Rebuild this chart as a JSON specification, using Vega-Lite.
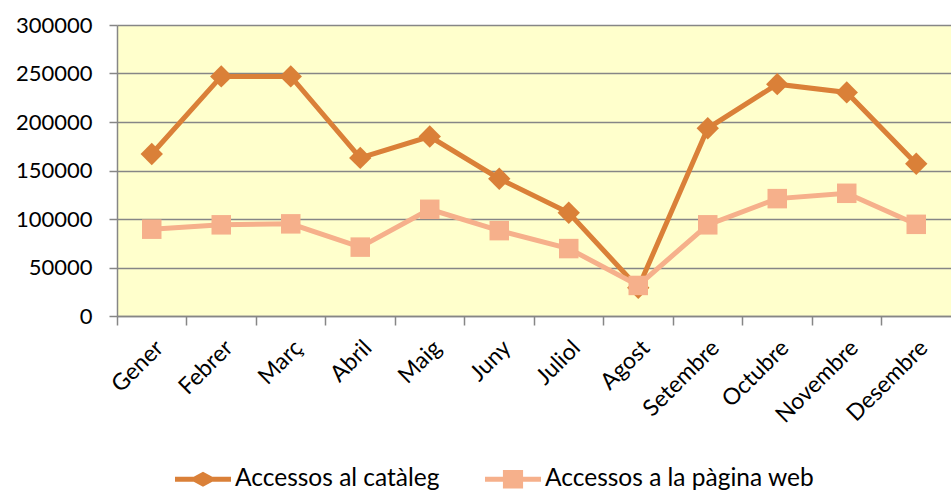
{
  "$schema": "https://vega.github.io/schema/vega-lite/v6.json",
  "autosize": {"type": "none"},
  "width": 834,
  "height": 291,
  "padding": {"left": 117, "top": 25, "right": 0, "bottom": 175},
  "background": "white",
  "config": {
    "view": {"fill": "#FFFFCC", "stroke": null},
    "font": "Lato"
  },
  "data": {
    "values": [
      {"mes": "Gener", "serie": "Accessos al catàleg", "valor": 167000},
      {"mes": "Febrer", "serie": "Accessos al catàleg", "valor": 247000},
      {"mes": "Març", "serie": "Accessos al catàleg", "valor": 247000},
      {"mes": "Abril", "serie": "Accessos al catàleg", "valor": 163000},
      {"mes": "Maig", "serie": "Accessos al catàleg", "valor": 185000},
      {"mes": "Juny", "serie": "Accessos al catàleg", "valor": 141500},
      {"mes": "Juliol", "serie": "Accessos al catàleg", "valor": 106500},
      {"mes": "Agost", "serie": "Accessos al catàleg", "valor": 29000},
      {"mes": "Setembre", "serie": "Accessos al catàleg", "valor": 193500},
      {"mes": "Octubre", "serie": "Accessos al catàleg", "valor": 239000},
      {"mes": "Novembre", "serie": "Accessos al catàleg", "valor": 230500},
      {"mes": "Desembre", "serie": "Accessos al catàleg", "valor": 157000},
      {"mes": "Gener", "serie": "Accessos a la pàgina web", "valor": 89500},
      {"mes": "Febrer", "serie": "Accessos a la pàgina web", "valor": 94000},
      {"mes": "Març", "serie": "Accessos a la pàgina web", "valor": 95000},
      {"mes": "Abril", "serie": "Accessos a la pàgina web", "valor": 71000},
      {"mes": "Maig", "serie": "Accessos a la pàgina web", "valor": 110000},
      {"mes": "Juny", "serie": "Accessos a la pàgina web", "valor": 88000},
      {"mes": "Juliol", "serie": "Accessos a la pàgina web", "valor": 69500},
      {"mes": "Agost", "serie": "Accessos a la pàgina web", "valor": 31500},
      {"mes": "Setembre", "serie": "Accessos a la pàgina web", "valor": 94000},
      {"mes": "Octubre", "serie": "Accessos a la pàgina web", "valor": 121000},
      {"mes": "Novembre", "serie": "Accessos a la pàgina web", "valor": 126500},
      {"mes": "Desembre", "serie": "Accessos a la pàgina web", "valor": 94500}
    ]
  },
  "encoding": {
    "x": {
      "field": "mes",
      "type": "nominal",
      "sort": null,
      "scale": {"type": "band", "paddingInner": 0, "paddingOuter": 0},
      "axis": {
        "title": null,
        "bandPosition": 0,
        "domainColor": "#868686",
        "domainWidth": 1.5,
        "tickColor": "#868686",
        "tickWidth": 1.5,
        "tickSize": 9,
        "labelAngle": -45,
        "labelAlign": "right",
        "labelBaseline": "middle",
        "labelFontSize": 23,
        "labelColor": "black",
        "labelPadding": 19,
        "labelOffset": 8,
        "grid": false
      }
    },
    "y": {
      "field": "valor",
      "type": "quantitative",
      "scale": {"domain": [0, 300000], "nice": false},
      "axis": {
        "title": null,
        "values": [0, 50000, 100000, 150000, 200000, 250000, 300000],
        "format": "d",
        "domainColor": "#868686",
        "domainWidth": 1.5,
        "tickColor": "#868686",
        "tickWidth": 1.5,
        "tickSize": 8,
        "labelFontSize": 22,
        "labelColor": "black",
        "labelPadding": 17,
        "grid": true,
        "gridColor": "#868686",
        "gridWidth": 1.5
      }
    },
    "color": {
      "field": "serie",
      "type": "nominal",
      "sort": ["Accessos al catàleg", "Accessos a la pàgina web"],
      "scale": {
        "domain": ["Accessos al catàleg", "Accessos a la pàgina web"],
        "range": ["#DA8038", "#F6B08B"]
      },
      "legend": {
        "title": null,
        "orient": "none",
        "direction": "horizontal",
        "legendX": 58,
        "legendY": 426,
        "labelFontSize": 24.5,
        "labelLimit": 500,
        "labelColor": "black",
        "symbolSize": 3136,
        "symbolStrokeWidth": 0,
        "symbolOpacity": 1,
        "labelOffset": 4,
        "columnPadding": 45,
        "symbolType": "M-1,-0.09L-0.33,-0.09L0,-0.27L0.33,-0.09L1,-0.09L1,0.09L0.33,0.09L0,0.27L-0.33,0.09L-1,0.09Z",
        "encode": {
          "symbols": {
            "update": {
              "shape": {
                "signal": "datum.value === 'Accessos al catàleg' ? 'M-1,-0.09L-0.33,-0.09L0,-0.27L0.33,-0.09L1,-0.09L1,0.09L0.33,0.09L0,0.27L-0.33,0.09L-1,0.09Z' : 'M-1,-0.09L-0.36,-0.09L-0.36,-0.33L0.36,-0.33L0.36,-0.09L1,-0.09L1,0.09L0.36,0.09L0.36,0.33L-0.36,0.33L-0.36,0.09L-1,0.09Z'"
              }
            }
          }
        }
      }
    }
  },
  "layer": [
    {
      "mark": {"type": "line", "strokeWidth": 5}
    },
    {
      "transform": [{"filter": "datum.serie === 'Accessos al catàleg'"}],
      "mark": {"type": "point", "shape": "diamond", "filled": true, "opacity": 1, "size": 500}
    },
    {
      "transform": [{"filter": "datum.serie === 'Accessos a la pàgina web'"}],
      "mark": {"type": "point", "shape": "square", "filled": true, "opacity": 1, "size": 380}
    }
  ]
}
